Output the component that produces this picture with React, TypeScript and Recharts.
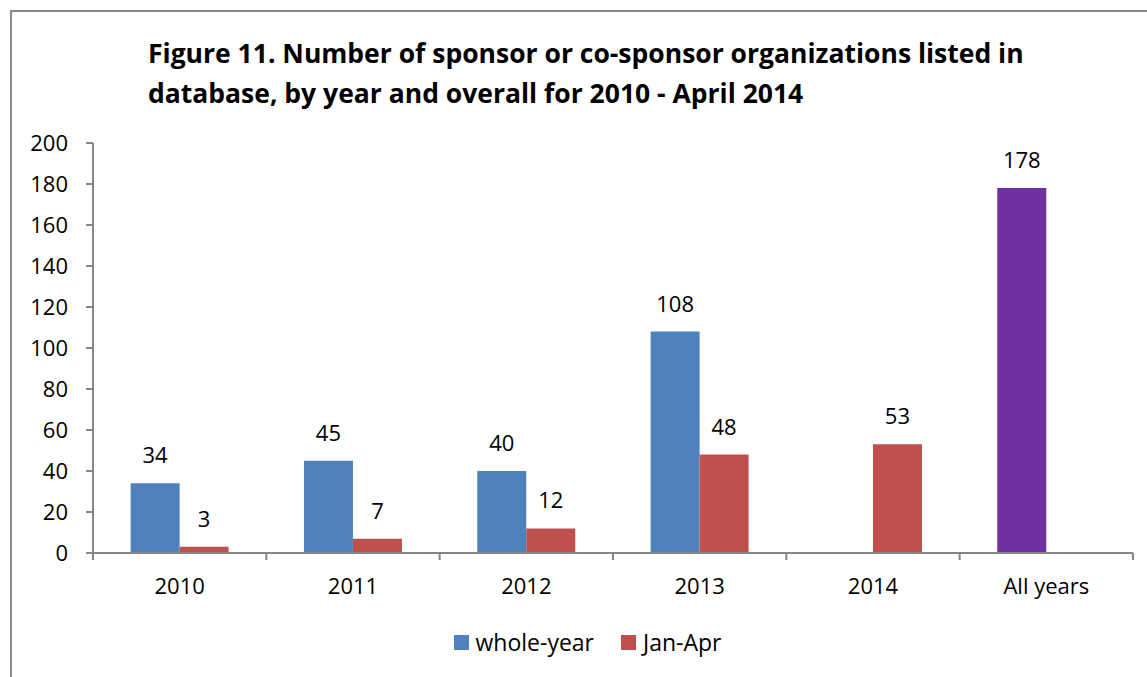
import React from 'react';
import { BarChart, Bar, XAxis, YAxis, Legend, LabelList, Cell } from 'recharts';

const categories = ['2010', '2011', '2012', '2013', '2014', 'All years'];
const wholeYear: (number | null)[] = [34, 45, 40, 108, null, 178];
const janApr: (number | null)[] = [3, 7, 12, 48, 53, null];
const yTicks = [0, 20, 40, 60, 80, 100, 120, 140, 160, 180, 200];
const legendItems = [
  { label: 'whole-year', color: '#4F81BD' },
  { label: 'Jan-Apr', color: '#C0504D' },
];

const data = categories.map((c, i) => ({ name: c, whole: wholeYear[i], jan: janApr[i] }));

const FONT = '"Open Sans", Lato, sans-serif';
const AXIS = '#868686';
const BAND = 1040 / 6;

const XTick = (props: any) => {
  const { x, y, payload, index } = props;
  return (
    <g>
      <line x1={x - BAND / 2} x2={x - BAND / 2} y1={y - 8} y2={y - 1} stroke={AXIS} strokeWidth={2} />
      {index === categories.length - 1 && (
        <line x1={x + BAND / 2} x2={x + BAND / 2} y1={y - 8} y2={y - 1} stroke={AXIS} strokeWidth={2} />
      )}
      <text x={x} y={y + 33} textAnchor="middle" fontSize={22} fill="#000" fontFamily={FONT}>
        {payload.value}
      </text>
    </g>
  );
};

const LegendContent = () => (
  <div style={{ display: 'flex', justifyContent: 'center', alignItems: 'center', fontFamily: FONT, fontSize: 23, color: '#000' }}>
    {legendItems.map((it, i) => (
      <div key={it.label} style={{ display: 'flex', alignItems: 'center', marginLeft: i === 0 ? 0 : 27 }}>
        <span style={{ display: 'inline-block', width: 15, height: 15, background: it.color, marginRight: 7 }} />
        <span>{it.label}</span>
      </div>
    ))}
  </div>
);

export default function App() {
  return (
    <div style={{ position: 'absolute', left: 0, top: 0, width: 1147, height: 677, overflow: 'hidden', background: '#fff' }}>
      <div style={{ position: 'absolute', left: 10, top: 10, width: 1300, height: 800, border: '2px solid #898989' }} />
      <div style={{ position: 'absolute', left: 148, top: 33, fontFamily: FONT, fontWeight: 'bold', fontSize: 26.5, lineHeight: '40px', color: '#000', whiteSpace: 'nowrap' }}>
        Figure 11. Number of sponsor or co-sponsor organizations listed in<br />
        database, by year and overall for 2010 - April 2014
      </div>
      <div style={{ position: 'absolute', left: 0, top: 0 }}>
        <BarChart width={1147} height={677} data={data} margin={{ top: 143, right: 14, bottom: 32, left: 10 }} barGap={0} barCategoryGap="21.7%">
          <XAxis dataKey="name" axisLine={{ stroke: AXIS, strokeWidth: 2 }} tickLine={false} tick={<XTick />} interval={0} height={60} />
          <YAxis domain={[0, 200]} ticks={yTicks} width={83} axisLine={{ stroke: AXIS, strokeWidth: 2 }} tickLine={{ stroke: AXIS, strokeWidth: 2 }} tickSize={7} tickMargin={18} tick={{ fontSize: 22, fill: '#000', fontFamily: FONT }} interval={0} />
          <Legend verticalAlign="bottom" content={<LegendContent />}
            wrapperStyle={{ position: 'absolute', top: 626, left: 14, width: 1147 }} />
          <Bar dataKey="whole" name="whole-year" fill="#4F81BD" isAnimationActive={false}>
            {data.map((d, i) => (
              <Cell key={i} fill={d.name === 'All years' ? '#7030A0' : '#4F81BD'} />
            ))}
            <LabelList dataKey="whole" position="top" offset={20} fill="#000" fontSize={22} fontFamily={FONT} />
          </Bar>
          <Bar dataKey="jan" name="Jan-Apr" fill="#C0504D" isAnimationActive={false}>
            <LabelList dataKey="jan" position="top" offset={20} fill="#000" fontSize={22} fontFamily={FONT} />
          </Bar>
        </BarChart>
      </div>
    </div>
  );
}
